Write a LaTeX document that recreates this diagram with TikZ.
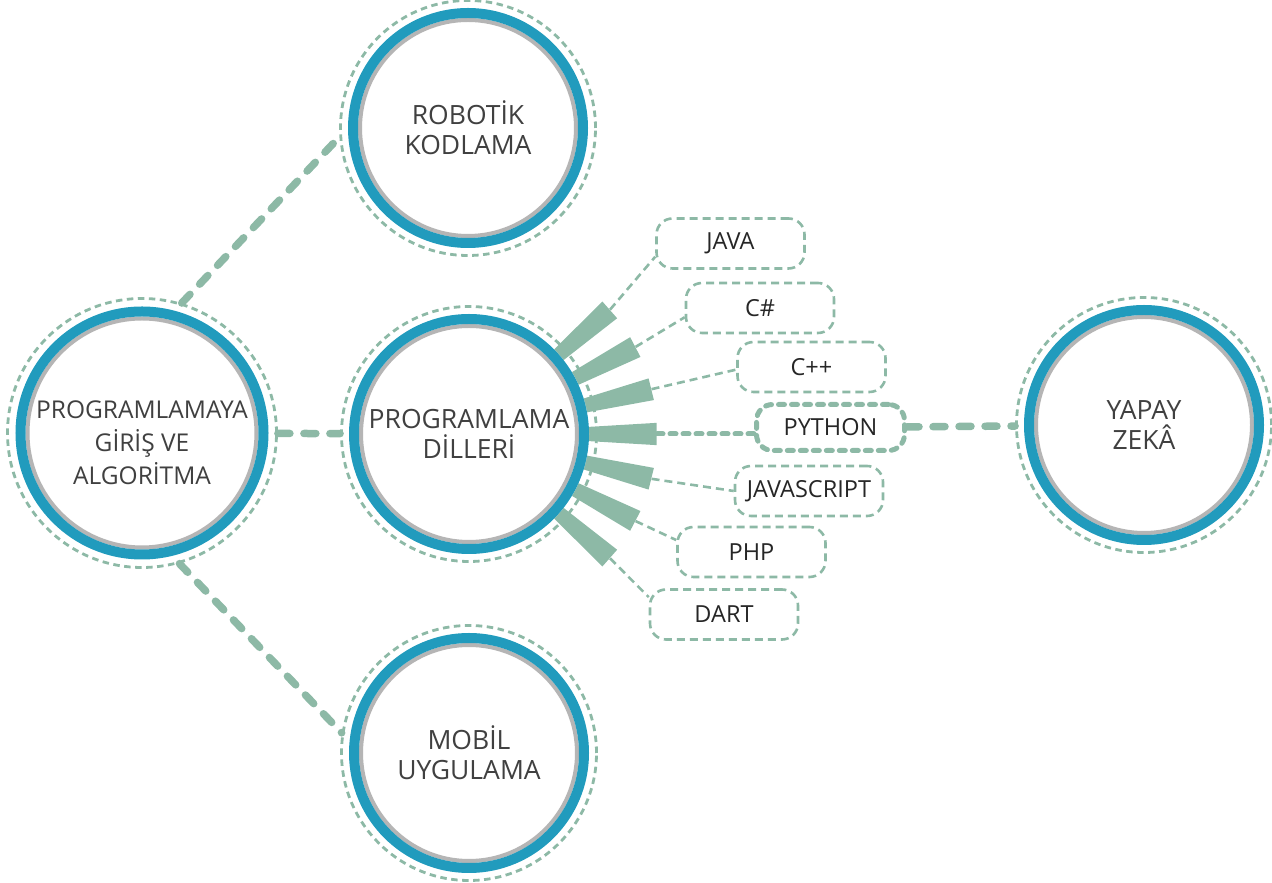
\documentclass[tikz,border=0pt]{standalone}
\usepackage{fontspec}
\setmainfont{Open Sans}
\usetikzlibrary{calc,backgrounds}
\definecolor{sage}{HTML}{8DB9A6}
\definecolor{ringblue}{HTML}{219BBD}
\definecolor{ringgray}{HTML}{B5B5B5}
\definecolor{ctxt}{HTML}{404040}
\definecolor{btxt}{HTML}{262626}
\tikzset{
  ringnode/.style={circle, draw=sage, line width=2.8pt, dash pattern=on 6.5pt off 4.5pt,
    minimum size=255pt, inner sep=0pt, text=ctxt, align=center,
    font=\fontsize{26.5}{30}\selectfont},
  ctext/.style={text=ctxt, align=center, inner sep=0pt, font=\fontsize{24.5}{33}\selectfont},
  langbox/.style={rectangle, rounded corners=16pt, draw=sage, line width=2.6pt,
    dash pattern=on 8pt off 5pt, fill=white, minimum width=148pt, minimum height=50pt,
    inner sep=0pt, text=btxt, font=\fontsize{23.5}{27}\selectfont},
  hotbox/.style={langbox, line width=5pt, dash pattern=on 6pt off 7pt, line cap=round,
    minimum width=148pt, minimum height=46pt},
  bigdash/.style={draw=sage, line width=7.5pt, dash pattern=on 12pt off 14pt, line cap=round},
  thindash/.style={draw=sage, line width=2.6pt, dash pattern=on 8pt off 5pt},
  hotdash/.style={draw=sage, line width=5pt, dash pattern=on 6pt off 7pt, line cap=round},
  bluering/.style={draw=ringblue, line width=10pt},
  grayring/.style={draw=ringgray, line width=4pt},
}
\begin{document}
\begin{tikzpicture}[x=1pt,y=1pt]
\useasboundingbox (0,0) rectangle (1272,883);
% big circles
\node[ringnode, minimum size=269pt] (L) at (142,450) {};
\node[ctext] (Lt) at (142,440.5) {PROGRAMLAMAYA\\GİRİŞ VE\\ALGORİTMA};
\node[ringnode] (R) at (468,755) {ROBOTİK\\KODLAMA};
\node[ringnode] (P) at (469,449) {PROGRAMLAMA\\DİLLERİ};
\node[ringnode] (M) at (469,130) {MOBİL\\UYGULAMA};
\node[ringnode] (Y) at (1144,458) {YAPAY\\ZEKÂ};
% language boxes
\node[langbox] (java) at (730.5,639.5) {JAVA};
\node[langbox] (csharp) at (760,575) {C\#};
\node[langbox] (cpp) at (811.5,516) {C++};
\node[hotbox] (python) at (830.5,455.5) {PYTHON};
\node[langbox] (js) at (809,392) {JAVASCRIPT};
\node[langbox] (php) at (751.5,331) {PHP};
\node[langbox] (dart) at (724,268.5) {DART};
\begin{scope}[on background layer]
  % fan of wedges
  \foreach \a/\n in {41.4/1,27.6/2,13.8/3,0/4,-13.8/5,-27.6/6,-41.4/7}{
    \fill[sage] ($(P)+(\a-3.4:105)$) -- ($(P)+(\a-3.4:188)$) -- ($(P)+(\a+3.4:188)$) -- ($(P)+(\a+3.4:105)$) -- cycle;
    \coordinate (w\n) at ($(P)+(\a:188)$);
  }
  % connectors
  \draw[thindash] (w1) -- (java.190);
  \draw[thindash] (w2) -- (csharp.187);
  \draw[thindash] (w3) -- (cpp.182);
  \draw[hotdash] (w4) -- (w4 -| python.west);
  \draw[thindash] (w5) -- (js.west);
  \draw[thindash] (w6) -- (php.171);
  \draw[thindash] (w7) -- (dart.167);
  \draw[bigdash] (L.73) -- (R.184.5);
  \draw[bigdash] (L.286) -- (M.171.6);
  \draw[bigdash] (L) -- (P);
  \draw[bigdash] (python) -- (Y);
  % rings
  \fill[white] (L) circle (126.5);
  \draw[grayring] (L) circle (114.5);
  \draw[bluering] (L) circle (121.5);
  \foreach \c in {R,P,M,Y}{
    \fill[white] (\c) circle (120);
    \draw[grayring] (\c) circle (108);
    \draw[bluering] (\c) circle (115);
  }
\end{scope}
\end{tikzpicture}
\end{document}
